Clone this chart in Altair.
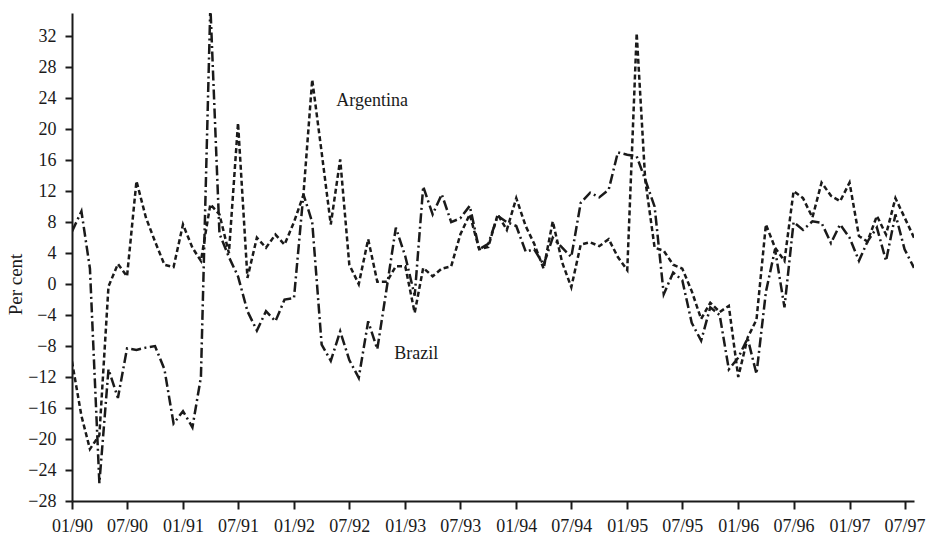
import altair as alt
import pandas as pd

# Monthly values, January 1990 to August 1997
argentina = [
    -10.0, -17.0, -21.3, -19.5, -0.3, 2.6, 1.0, 13.3, 8.6, 5.5, 2.5, 2.2,
    7.7, 4.7, 3.0, 10.3, 9.0, 4.0, 20.8, 0.8, 6.0, 4.7, 6.4, 5.1,
    8.0, 11.5, 26.4, 17.0, 7.7, 16.1, 2.5, 0.0, 5.8, 0.3, 0.3, 2.3,
    2.3, -3.7, 2.1, 1.0, 2.0, 2.3, 6.4, 9.0, 4.5, 4.8, 9.0, 7.0,
    11.1, 7.5, 5.2, 2.0, 8.1, 2.8, -0.4, 5.1, 5.4, 4.9, 5.8, 3.5,
    1.8, 32.4, 13.5, 4.7, 4.3, 2.5, 2.0, -0.9, -4.5, -2.4, -3.6, -2.8,
    -12.0, -6.9, -4.6, 7.7, 4.7, 3.0, 12.0, 11.1, 8.6, 13.1, 11.4, 10.7,
    13.1, 6.2, 5.5, 8.8, 6.4, 11.1, 8.6, 6.0,
]
brazil = [
    6.8, 9.4, 2.0, -25.7, -11.0, -14.7, -8.3, -8.5, -8.2, -8.0, -11.0, -18.0,
    -16.4, -18.5, -12.0, 36.0, 6.5, 3.5, 1.0, -3.5, -6.0, -3.5, -4.8, -2.0,
    -1.8, 11.6, 8.0, -7.8, -9.9, -6.1, -9.8, -12.1, -4.8, -8.4, -0.5, 7.3,
    3.6, -1.5, 12.6, 9.0, 11.6, 8.0, 8.5, 10.1, 4.5, 5.2, 8.8, 8.0,
    7.5, 4.2, 4.5, 2.5, 6.0, 4.7, 3.5, 10.5, 11.8, 11.2, 12.2, 17.0,
    16.7, 16.5, 13.5, 10.0, -1.3, 1.5, 0.5, -5.0, -7.3, -3.0, -4.0, -11.0,
    -9.5, -7.0, -11.6, -1.0, 4.5, -3.0, 8.0, 7.0, 8.1, 7.9, 5.3, 7.7,
    6.0, 3.0, 5.5, 7.3, 3.0, 9.0, 4.5, 2.1,
]
months = pd.date_range("1990-01-01", periods=len(argentina), freq="MS").strftime("%Y-%m-%d").tolist()

series_names = ["Argentina", "Brazil"]
y_ticks = list(range(-28, 33, 4))
x_tick_months = [(1990 + i // 2, 1 if i % 2 == 0 else 7) for i in range(16)]

label_texts = ["Argentina", "Brazil"]
label_dates = ["1992-05-19", "1992-11-26"]
label_values = [23.6, -9.0]

df = pd.DataFrame({
    "date": months * 2,
    "value": argentina + brazil,
    "country": [series_names[0]] * len(argentina) + [series_names[1]] * len(brazil),
})
labels = pd.DataFrame({"date": label_dates, "value": label_values, "text": label_texts})

FONT = "Liberation Serif"
INK = "#1a1a1a"

x_enc = alt.X(
    "date:T",
    scale=alt.Scale(
        type="utc",
        domain=[alt.DateTime(year=1990, month=1, date=1, utc=True),
                alt.DateTime(year=1997, month=8, date=1, utc=True)],
        nice=False,
    ),
    axis=alt.Axis(
        values=[alt.DateTime(year=y, month=m, date=1, utc=True) for y, m in x_tick_months],
        format="%m/%y",
        title=None,
        grid=False,
        domainColor=INK, domainWidth=2,
        tickColor=INK, tickWidth=2, tickSize=8,
        labelFont=FONT, labelFontSize=18, labelColor=INK,
        labelPadding=8, labelFlush=False, labelOverlap=False,
    ),
)
y_enc = alt.Y(
    "value:Q",
    scale=alt.Scale(domain=[-28, 35], nice=False, zero=False),
    axis=alt.Axis(
        values=y_ticks,
        title="Per cent",
        titleFont=FONT, titleFontSize=19, titleFontWeight="normal", titleColor=INK,
        titleY=271, titlePadding=2,
        grid=False,
        domainColor=INK, domainWidth=2,
        tickColor=INK, tickWidth=2, tickSize=7,
        labelFont=FONT, labelFontSize=18, labelColor=INK,
        labelPadding=9, labelFlush=False, labelOverlap=False,
    ),
)

lines = alt.Chart(df).mark_line(strokeWidth=2.5, color=INK, clip=True).encode(
    strokeDash=alt.StrokeDash(
        "country:N",
        scale=alt.Scale(domain=series_names, range=[[5, 3], [10, 3.5, 2, 3.5]]),
        legend=None,
    ),
)

text = alt.Chart(labels).mark_text(
    align="left", baseline="middle", font=FONT, fontSize=18, color=INK
).encode(text="text:N")

chart = alt.layer(lines, text).encode(x=x_enc, y=y_enc).properties(
    width=842,
    height=488,
    autosize=alt.AutoSizeParams(type="none"),
    padding={"left": 72, "top": 13, "right": 12, "bottom": 35},
    background="white",
).configure_view(stroke=None).configure_axis(labelOverlap=False, titleFontSize=19)

chart.save("out.html", embed_options={"renderer": "svg", "actions": False})
